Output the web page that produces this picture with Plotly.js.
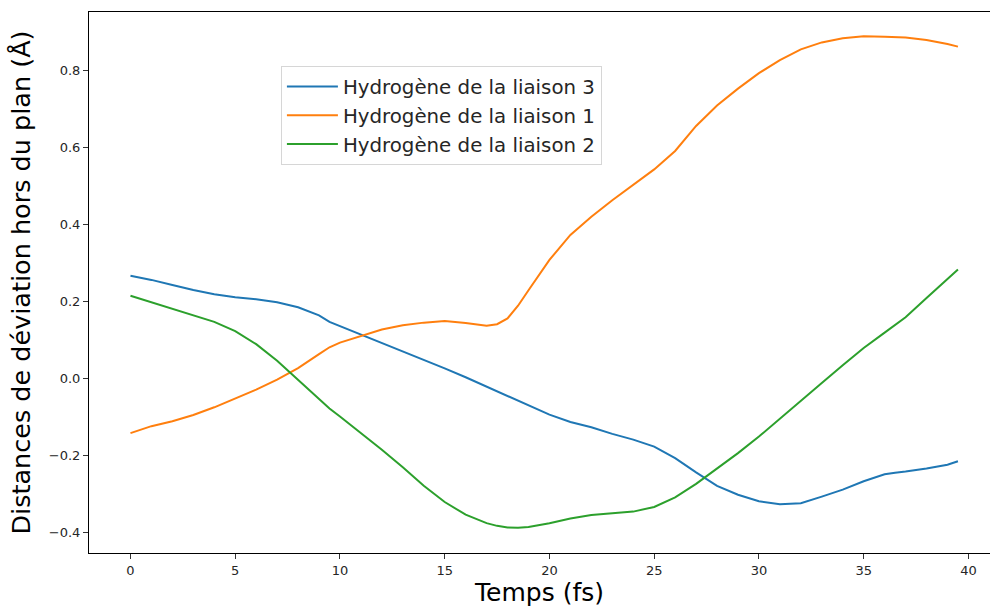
<!DOCTYPE html>
<html>
<head>
<meta charset="utf-8">
<script src="https://cdn.plot.ly/plotly-3.0.1.min.js"></script>
<style>html,body{margin:0;padding:0;background:#fff;}#chart{width:990px;height:607px;}</style>
</head>
<body>
<div id="chart"></div>
<script>
const temps = [0,1,2,3,4,5,6,7,8,9,9.5,10,11,12,13,14,15,16,17,17.5,18,18.5,19,20,21,22,23,24,25,26,27,28,29,30,31,32,33,34,35,36,36.5,37,38,39,39.5];

const liaison3 = [0.266,0.255,0.242,0.229,0.218,0.21,0.205,0.197,0.184,0.163,0.146,0.135,0.114,0.093,0.07,0.048,0.025,0.002,-0.022,-0.034,-0.048,-0.06,-0.072,-0.095,-0.114,-0.128,-0.145,-0.16,-0.178,-0.208,-0.245,-0.28,-0.303,-0.32,-0.328,-0.325,-0.308,-0.29,-0.268,-0.25,-0.246,-0.243,-0.235,-0.225,-0.216];

const liaison1 = [-0.143,-0.125,-0.112,-0.096,-0.076,-0.053,-0.03,-0.004,0.026,0.062,0.08,0.092,0.11,0.126,0.137,0.144,0.148,0.143,0.136,0.14,0.155,0.188,0.228,0.307,0.372,0.419,0.462,0.503,0.542,0.59,0.655,0.708,0.752,0.792,0.826,0.854,0.872,0.883,0.888,0.887,0.886,0.885,0.878,0.868,0.861];

const liaison2 = [0.214,0.197,0.18,0.163,0.146,0.122,0.088,0.045,-0.005,-0.055,-0.079,-0.1,-0.142,-0.186,-0.232,-0.28,-0.322,-0.355,-0.377,-0.384,-0.388,-0.389,-0.387,-0.377,-0.365,-0.356,-0.351,-0.347,-0.335,-0.31,-0.275,-0.235,-0.195,-0.152,-0.105,-0.058,-0.013,0.033,0.078,0.118,0.138,0.158,0.208,0.257,0.282];

const seriesNames = ['Hydrogène de la liaison 3','Hydrogène de la liaison 1','Hydrogène de la liaison 2'];
const colors = ['#1f77b4','#ff7f0e','#2ca02c'];
const xTicks = [0,5,10,15,20,25,30,35,40];
const yTicks = [-0.4,-0.2,0.0,0.2,0.4,0.6,0.8];
const yTickText = ['\u22120.4','\u22120.2','0.0','0.2','0.4','0.6','0.8'];

const values = [liaison3, liaison1, liaison2];
const traces = values.map((v,i)=>({
  x: temps, y: v, type:'scatter', mode:'lines', name: seriesNames[i],
  legendgroup: 'g' + i,
  line:{color: colors[i], width: 2}
}));

const font = 'DejaVu Sans, sans-serif';
const layout = {
  width: 990, height: 607,
  margin: {l: 89, r: 0, t: 12, b: 54},
  paper_bgcolor: '#fff', plot_bgcolor: '#fff',
  font: {family: font, color: '#262626'},
  showlegend: true,
  legend: {
    x: 0.213, y: 0.9, xanchor: 'left', yanchor: 'top',
    bgcolor: 'rgba(255,255,255,0.8)', bordercolor: '#d6d6d6', borderwidth: 1,
    font: {family: font, size: 19.8, color: '#262626'},
    itemwidth: 51, tracegroupgap: 6, traceorder: 'normal'
  },
  xaxis: {
    range: [-1.98, 41.03], tickvals: xTicks, ticktext: xTicks.map(String),
    showgrid: false, zeroline: false,
    showline: true, mirror: true, linecolor: '#000', linewidth: 1,
    ticks: 'outside', ticklen: 5, tickcolor: '#333', tickwidth: 1,
    tickfont: {family: font, size: 13, color: '#262626'},
    title: {text: 'Temps (fs)', font: {family: font, size: 25, color: '#000'}, standoff: 8},
    automargin: false
  },
  yaxis: {
    range: [-0.4545, 0.951], tickvals: yTicks, ticktext: yTickText,
    showgrid: false, zeroline: false,
    showline: true, mirror: false, linecolor: '#000', linewidth: 1,
    ticks: 'outside', ticklen: 5, tickcolor: '#333', tickwidth: 1,
    tickfont: {family: font, size: 13, color: '#262626'},
    title: {text: 'Distances de déviation hors du plan (Å)', font: {family: font, size: 25.5, color: '#000'}, standoff: 10},
    automargin: false
  }
};

Plotly.newPlot('chart', traces, layout, {displayModeBar: false, staticPlot: true});
</script>
</body>
</html>
